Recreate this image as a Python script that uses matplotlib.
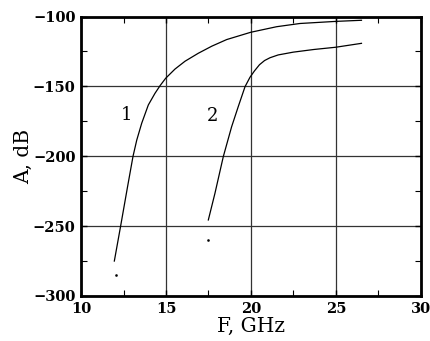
import matplotlib
matplotlib.use('Agg')
import matplotlib.pyplot as plt
from matplotlib.ticker import MultipleLocator

# curve 1
f1 = [11.96, 12.33, 12.75, 13.06, 13.28, 13.57, 13.96, 14.35, 14.65, 14.98,
      15.53, 16.12, 16.9, 17.7, 18.57, 19.98, 21.51, 22.88, 24.98, 26.5]
a1 = [-275.0, -250.0, -221.0, -200.0, -188.4, -176.4, -163.3, -155.0, -149.5, -144.2,
      -137.6, -132.0, -126.3, -121.2, -116.5, -111.3, -107.3, -105.0, -103.5, -102.7]
# curve 2
f2 = [17.49, 17.88, 18.37, 18.86, 19.25, 19.65, 19.94, 20.2, 20.5, 20.8,
      21.12, 21.6, 22.49, 23.7, 24.98, 26.5]
a2 = [-245.6, -226.5, -200.3, -178.9, -164.5, -150.2, -143.5, -139.0, -134.5, -131.5,
      -129.5, -127.5, -125.5, -123.6, -122.0, -119.2]
# stray dots under each curve
dots_f = [12.06, 17.49]
dots_a = [-285.0, -260.0]

labels = ['1', '2']
label_f = [12.65, 17.76]
label_a = [-170.5, -171.0]

plt.rcParams['font.family'] = 'DejaVu Serif'

fig = plt.figure(figsize=(4.3, 3.41), dpi=100)
ax = fig.add_axes([0.1884, 0.132, 0.7906, 0.8196])

ax.plot(f1, a1, color='black', lw=0.9)
ax.plot(f2, a2, color='black', lw=0.9)
ax.plot(dots_f, dots_a, ls='none', marker='s', ms=0.8, color='black')

for t, x, y in zip(labels, label_f, label_a):
    ax.text(x, y, t, fontsize=13, ha='center', va='center')

ax.set_xlim(10, 30)
ax.set_ylim(-300, -100)
ax.xaxis.set_major_locator(MultipleLocator(5))
ax.xaxis.set_minor_locator(MultipleLocator(2.5))
ax.yaxis.set_major_locator(MultipleLocator(50))
ax.yaxis.set_minor_locator(MultipleLocator(25))
ax.grid(which='major', color='#333333', lw=0.9)

ax.tick_params(which='both', direction='in', top=True, right=True)
ax.tick_params(which='major', length=4, width=1, labelsize=10.5, pad=4)
ax.tick_params(which='minor', length=4, width=0.8)
for lab in ax.get_xticklabels() + ax.get_yticklabels():
    lab.set_fontweight('bold')
for s in ax.spines.values():
    s.set_linewidth(2)

ax.set_xlabel('F, GHz', fontsize=14.5, labelpad=1)
ax.set_ylabel('A, dB', fontsize=14.5, labelpad=0)

fig.savefig('out.png', dpi=100)
